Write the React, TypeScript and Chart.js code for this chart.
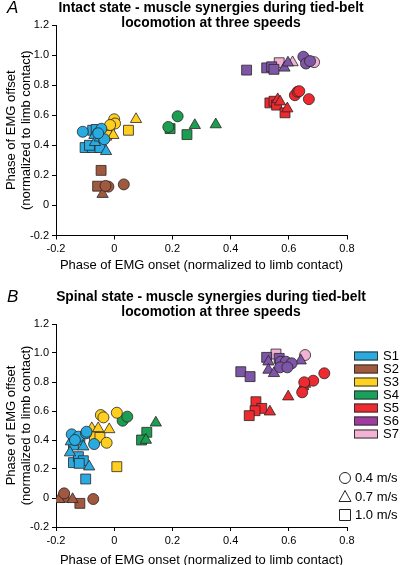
import React, { useEffect, useRef } from 'react';
import { Chart, registerables } from 'chart.js';

Chart.register(...registerables);

// ---------- data ----------
const SYNERGIES = ['S1', 'S2', 'S3', 'S4', 'S5', 'S6', 'S7'];
const SPEEDS = [0.4, 0.7, 1.0];
const SPEED_LABELS = ['0.4 m/s', '0.7 m/s', '1.0 m/s'];
const X_TICKS = [-0.2, 0, 0.2, 0.4, 0.6, 0.8];
const Y_TICKS = [-0.2, 0, 0.2, 0.4, 0.6, 0.8, 1.0, 1.2];

const TITLE_A = ['Intact state - muscle synergies during tied-belt', 'locomotion at three speeds'];
const TITLE_B = ['Spinal state - muscle synergies during tied-belt', 'locomotion at three speeds'];
const X_TITLE = 'Phase of EMG onset (normalized to limb contact)';
const Y_TITLE = ['Phase of EMG offset', '(normalized to limb contact)'];

// [onset, offset, speed m/s]
const INTACT_S1 = [
  [-0.108, 0.49, 0.4], [-0.044, 0.51, 0.4], [-0.034, 0.44, 0.4], [-0.055, 0.48, 0.4],
  [-0.068, 0.467, 0.7], [-0.066, 0.42, 0.7], [-0.028, 0.36, 0.7], [-0.05, 0.45, 0.7],
  [-0.074, 0.50, 1.0], [-0.062, 0.505, 1.0], [-0.100, 0.385, 1.0], [-0.075, 0.385, 1.0], [-0.049, 0.385, 1.0], [-0.085, 0.40, 1.0],
];
const INTACT_S2 = [
  [-0.020, 0.125, 0.4], [-0.030, 0.13, 0.4], [0.033, 0.14, 0.4],
  [-0.040, 0.075, 0.7],
  [-0.045, 0.233, 1.0], [-0.057, 0.128, 1.0],
];
const INTACT_S3 = [
  [0.000, 0.573, 0.4], [0.003, 0.545, 0.4], [-0.014, 0.535, 0.4],
  [0.075, 0.573, 0.7], [-0.003, 0.467, 0.7],
  [0.049, 0.50, 1.0], [-0.017, 0.505, 1.0], [-0.026, 0.467, 1.0],
];
const INTACT_S4 = [
  [0.186, 0.522, 0.4], [0.218, 0.593, 0.4],
  [0.277, 0.533, 0.7], [0.349, 0.538, 0.7],
  [0.192, 0.511, 1.0], [0.250, 0.471, 1.0],
];
const INTACT_S5 = [
  [0.621, 0.733, 0.4], [0.630, 0.756, 0.4], [0.636, 0.76, 0.4], [0.669, 0.707, 0.4],
  [0.562, 0.705, 0.7], [0.570, 0.69, 0.7], [0.595, 0.644, 0.7],
  [0.535, 0.682, 1.0], [0.549, 0.693, 1.0], [0.558, 0.667, 1.0], [0.587, 0.616, 1.0],
];
const INTACT_S6 = [
  [0.650, 0.989, 0.4], [0.659, 0.944, 0.4], [0.673, 0.96, 0.4],
  [0.585, 0.915, 0.7], [0.597, 0.949, 0.7],
  [0.455, 0.90, 1.0], [0.524, 0.915, 1.0], [0.541, 0.922, 1.0], [0.549, 0.905, 1.0],
];
const INTACT_S7 = [
  [0.687, 0.953, 0.4],
  [0.613, 0.951, 0.7],
  [0.567, 0.949, 1.0],
];

const SPINAL_S1 = [
  [-0.146, 0.439, 0.4], [-0.123, 0.423, 0.4], [-0.097, 0.446, 0.4], [-0.095, 0.457, 0.4], [-0.069, 0.372, 0.4], [-0.135, 0.40, 0.4],
  [-0.106, 0.354, 0.7], [-0.152, 0.313, 0.7], [-0.149, 0.389, 0.7], [-0.086, 0.216, 0.7],
  [-0.140, 0.366, 1.0], [-0.118, 0.40, 1.0], [-0.140, 0.244, 1.0], [-0.123, 0.285, 1.0], [-0.106, 0.257, 1.0], [-0.120, 0.239, 1.0], [-0.098, 0.131, 1.0],
];
const SPINAL_S2 = [
  [-0.172, 0.032, 0.4], [-0.072, -0.007, 0.4],
  [-0.189, -0.009, 0.7], [-0.143, -0.009, 0.7],
  [-0.172, 0.005, 1.0], [-0.118, -0.037, 1.0],
];
const SPINAL_S3 = [
  [-0.046, 0.572, 0.4], [-0.037, 0.556, 0.4], [0.009, 0.588, 0.4], [-0.026, 0.381, 0.4],
  [-0.077, 0.48, 0.7], [-0.055, 0.48, 0.7], [-0.017, 0.473, 0.7],
  [-0.068, 0.423, 1.0], [-0.049, 0.418, 1.0], [0.009, 0.216, 1.0],
];
const SPINAL_S4 = [
  [0.029, 0.533, 0.4], [0.045, 0.561, 0.4],
  [0.143, 0.519, 0.7], [0.109, 0.40, 0.7],
  [0.112, 0.453, 1.0], [0.094, 0.40, 1.0],
];
const SPINAL_S5 = [
  [0.722, 0.860, 0.4], [0.684, 0.809, 0.4], [0.653, 0.798, 0.4], [0.646, 0.729, 0.4],
  [0.656, 0.786, 0.7], [0.650, 0.77, 0.7], [0.598, 0.699, 0.7], [0.535, 0.595, 0.7],
  [0.487, 0.664, 1.0], [0.507, 0.618, 1.0], [0.484, 0.602, 1.0], [0.464, 0.568, 1.0],
];
const SPINAL_S6 = [
  [0.572, 0.940, 0.4], [0.590, 0.94, 0.4], [0.610, 0.929, 0.4], [0.570, 0.901, 0.4], [0.595, 0.901, 0.4],
  [0.530, 0.94, 0.7], [0.530, 0.883, 0.7], [0.549, 0.860, 0.7], [0.641, 0.947, 0.7],
  [0.435, 0.871, 1.0], [0.467, 0.837, 1.0], [0.524, 0.970, 1.0], [0.567, 0.963, 1.0],
];
const SPINAL_S7 = [
  [0.656, 0.986, 0.4],
  [0.556, 0.993, 1.0],
];

const INTACT = [INTACT_S1, INTACT_S2, INTACT_S3, INTACT_S4, INTACT_S5, INTACT_S6, INTACT_S7];
const SPINAL = [SPINAL_S1, SPINAL_S2, SPINAL_S3, SPINAL_S4, SPINAL_S5, SPINAL_S6, SPINAL_S7];

// ---------- styles ----------
const DATA_COLORS = ['#29ABE2', '#A0583F', '#FFCF1F', '#1C9E52', '#EC2A2F', '#7E56A8', '#F2B2D3'];
const LEGEND_COLORS = ['#29ABE2', '#A0583F', '#FFD21F', '#19A05A', '#EE2A30', '#A03C9E', '#F2B3D4'];
const SPEED_POINT_STYLES = ['circle', 'triangle', 'rect'];
const POINT_RADII: Record<string, number> = { circle: 5.5, triangle: 6.5, rect: 7 };
const FONT = '"Liberation Sans", Arial, Helvetica, sans-serif';

const fmt = (v: number) => (Math.abs(v) < 1e-9 ? '0' : Number(v).toFixed(1));

function buildDatasets(groups: number[][][]) {
  const out: any[] = [];
  groups.forEach((pts, i) => {
    SPEEDS.forEach((sp, j) => {
      const data = pts.filter((p) => p[2] === sp).map((p) => ({ x: p[0], y: p[1] }));
      if (!data.length) return;
      const style = SPEED_POINT_STYLES[j];
      out.push({
        label: `${SYNERGIES[i]} ${SPEED_LABELS[j]}`,
        data,
        showLine: false,
        pointStyle: style,
        pointRadius: POINT_RADII[style],
        pointHoverRadius: POINT_RADII[style],
        backgroundColor: DATA_COLORS[i],
        borderColor: '#2a2323',
        pointBorderWidth: 0.8,
      });
    });
  });
  return out;
}

const headerPlugin = {
  id: 'header',
  afterDraw(chart: any, _args: any, opts: any) {
    const ctx = chart.ctx;
    ctx.save();
    ctx.fillStyle = '#000';
    ctx.textBaseline = 'middle';
    ctx.textAlign = 'left';
    ctx.font = `italic 17px ${FONT}`;
    ctx.fillText(opts.letter, 7, opts.y);
    ctx.font = `bold 13.8px ${FONT}`;
    ctx.textAlign = 'center';
    opts.lines.forEach((l: string, i: number) => ctx.fillText(l, opts.cx, opts.y + i * 15));
    ctx.restore();
  },
};

const legendPlugin = {
  id: 'customLegend',
  afterDraw(chart: any, _args: any, opts: any) {
    if (!opts || !opts.show) return;
    const ctx = chart.ctx;
    ctx.save();
    ctx.textBaseline = 'middle';
    ctx.textAlign = 'left';
    ctx.font = `13px ${FONT}`;
    SYNERGIES.forEach((name, i) => {
      const cy = opts.swY + i * opts.swStep;
      ctx.fillStyle = LEGEND_COLORS[i];
      ctx.fillRect(opts.swX, cy - 4.5, 24, 9);
      ctx.strokeStyle = '#333';
      ctx.lineWidth = 1;
      ctx.strokeRect(opts.swX + 0.5, cy - 4.5 + 0.5, 23, 8);
      ctx.fillStyle = '#000';
      ctx.fillText(name, opts.swX + 29, cy + 0.5);
    });
    SPEED_LABELS.forEach((lab, j) => {
      const cy = opts.spY + j * opts.spStep;
      const cx = opts.spX;
      ctx.strokeStyle = '#222';
      ctx.lineWidth = 1;
      ctx.beginPath();
      const style = SPEED_POINT_STYLES[j];
      if (style === 'circle') {
        ctx.arc(cx, cy, 5.5, 0, Math.PI * 2);
      } else if (style === 'triangle') {
        ctx.moveTo(cx, cy - 6);
        ctx.lineTo(cx + 6, cy + 5);
        ctx.lineTo(cx - 6, cy + 5);
        ctx.closePath();
      } else {
        ctx.rect(cx - 5.5, cy - 5.5, 11, 11);
      }
      ctx.stroke();
      ctx.fillStyle = '#000';
      ctx.fillText(lab, cx + 10, cy + 0.5);
    });
    ctx.restore();
  },
};

type PanelProps = {
  top: number;
  height: number;
  groups: number[][][];
  letter: string;
  title: string[];
  chartTop: number;
  chartBottom: number;
  xTitleY: number;
  headerY: number;
  legend?: any;
};

function Panel(p: PanelProps) {
  const ref = useRef<HTMLCanvasElement | null>(null);
  useEffect(() => {
    if (!ref.current) return;
    const xTitleLH = 15.6;
    const xAxisH = p.xTitleY + xTitleLH / 2 - p.chartBottom;
    const padBottom = p.height - (p.xTitleY + xTitleLH / 2);
    const chart = new Chart(ref.current, {
      type: 'scatter',
      data: { datasets: buildDatasets(p.groups) },
      plugins: [headerPlugin, legendPlugin],
      options: {
        animation: false,
        responsive: false,
        devicePixelRatio: 1,
        layout: { padding: { top: p.chartTop, left: 0, right: 53, bottom: padBottom } },
        plugins: {
          legend: { display: false },
          tooltip: { enabled: false },
          title: { display: false },
          header: { letter: p.letter, lines: p.title, cx: 211, y: p.headerY },
          customLegend: p.legend || { show: false },
        } as any,
        scales: {
          x: {
            type: 'linear',
            min: -0.2,
            max: 0.8,
            afterBuildTicks: (a: any) => {
              a.ticks = X_TICKS.map((v) => ({ value: v }));
            },
            afterFit: (s: any) => {
              s.height = xAxisH;
            },
            ticks: {
              callback: (v: any) => fmt(Number(v)),
              color: '#000',
              font: { family: FONT, size: 11 },
              padding: 3,
              maxRotation: 0,
              autoSkip: false,
            },
            grid: { display: true, drawOnChartArea: false, drawTicks: true, tickLength: 4, color: '#000', lineWidth: 1 },
            border: { display: true, color: '#000', width: 1 },
            title: {
              display: true,
              text: X_TITLE,
              color: '#000',
              font: { family: FONT, size: 13, lineHeight: 1.2 },
              padding: { top: 0, bottom: 0 },
            },
          },
          y: {
            type: 'linear',
            min: -0.2,
            max: 1.2,
            afterBuildTicks: (a: any) => {
              a.ticks = Y_TICKS.map((v) => ({ value: v }));
            },
            afterFit: (s: any) => {
              s.width = 56;
            },
            ticks: {
              callback: (v: any) => fmt(Number(v)),
              color: '#000',
              font: { family: FONT, size: 11 },
              padding: 3,
              autoSkip: false,
            },
            grid: { display: true, drawOnChartArea: false, drawTicks: true, tickLength: 4, color: '#000', lineWidth: 1 },
            border: { display: true, color: '#000', width: 1 },
            title: {
              display: true,
              text: Y_TITLE,
              color: '#000',
              font: { family: FONT, size: 13, lineHeight: 1.1 },
              padding: { top: 4.5, bottom: 0 },
            },
          },
        },
      } as any,
    });
    return () => chart.destroy();
  }, []);
  return (
    <canvas
      ref={ref}
      width={400}
      height={p.height}
      style={{ position: 'absolute', left: 0, top: p.top, width: 400, height: p.height, display: 'block' }}
    />
  );
}

export default function App() {
  return (
    <div style={{ position: 'absolute', left: 0, top: 0, width: 400, height: 565, background: '#fff', overflow: 'hidden' }}>
      <Panel
        top={0}
        height={282}
        groups={INTACT}
        letter="A"
        title={TITLE_A}
        chartTop={25}
        chartBottom={235.5}
        xTitleY={265}
        headerY={8.5}
      />
      <Panel
        top={282}
        height={290}
        groups={SPINAL}
        letter="B"
        title={TITLE_B}
        chartTop={42}
        chartBottom={245}
        xTitleY={278}
        headerY={15.5}
        legend={{ show: true, swX: 354, swY: 74, swStep: 13, spX: 345, spY: 196, spStep: 18.5 }}
      />
    </div>
  );
}
